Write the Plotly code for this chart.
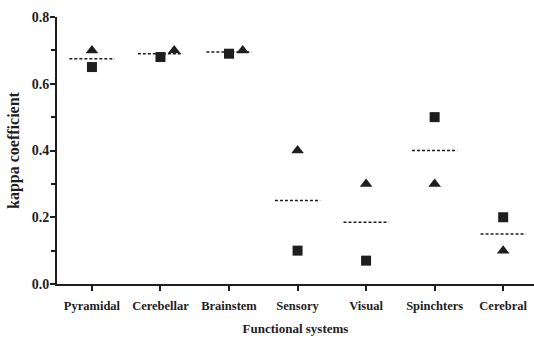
import plotly.graph_objects as go

# Functional systems and kappa coefficients from two rater comparisons
systems = ["Pyramidal", "Cerebellar", "Brainstem", "Sensory", "Visual", "Spinchters", "Cerebral"]
kappa_square = [0.65, 0.68, 0.69, 0.10, 0.07, 0.50, 0.20]
kappa_triangle = [0.70, 0.70, 0.70, 0.40, 0.30, 0.30, 0.10]
# horizontal nudge (in category units) so overlapping triangles stay visible
triangle_nudge = [0.0, 0.2, 0.2, 0.0, 0.0, 0.0, 0.0]
y_ticks = [0.0, 0.2, 0.4, 0.6, 0.8]

ink = "#1e1e1e"
font_family = "Liberation Serif, Times New Roman, serif"

idx = list(range(len(systems)))
means = [(a + b) / 2 for a, b in zip(kappa_square, kappa_triangle)]

fig = go.Figure()

# dashed mean line for each system
half = 0.33
for i, m in zip(idx, means):
    fig.add_trace(go.Scatter(
        x=[i - half, i + half], y=[m, m], mode="lines",
        line=dict(color=ink, width=1.5, dash="3px,2px"),
        showlegend=False, hoverinfo="skip"))

fig.add_trace(go.Scatter(
    x=idx, y=kappa_square, mode="markers",
    marker=dict(symbol="square", size=10, color=ink),
    showlegend=False))

fig.add_trace(go.Scatter(
    x=[i + d for i, d in zip(idx, triangle_nudge)], y=kappa_triangle, mode="markers",
    marker=dict(symbol="triangle-up", size=11, color=ink),
    showlegend=False))

fig.update_layout(
    width=534, height=342,
    margin=dict(l=57, r=0, t=17, b=58),
    plot_bgcolor="white", paper_bgcolor="white",
    font=dict(family=font_family, color=ink, size=12),
    xaxis=dict(
        range=[-0.51, 6.45], tickmode="array", tickvals=idx, ticktext=systems,
        showgrid=False, zeroline=False, showline=True, linecolor=ink, linewidth=1.8,
        ticks="outside", ticklen=5, tickwidth=1.5, tickcolor=ink,
        ticklabelstandoff=4,
        tickfont=dict(family=font_family, size=12.5, color=ink, weight="bold"),
        title=dict(text="<b>Functional systems</b>", standoff=12,
                   font=dict(family=font_family, size=13, color=ink)),
    ),
    yaxis=dict(
        range=[0, 0.8], tickmode="array", tickvals=y_ticks,
        ticktext=[f"{v:.1f}" for v in y_ticks],
        showgrid=False, zeroline=False, showline=True, linecolor=ink, linewidth=1.8,
        ticks="outside", ticklen=5, tickwidth=1.5, tickcolor=ink,
        ticklabelstandoff=-2,
        minor=dict(dtick=0.1, tick0=0.1, ticks="outside", ticklen=4, tickwidth=1.5,
                   tickcolor=ink, showgrid=False),
        tickfont=dict(family=font_family, size=14, color=ink, weight="bold"),
        title=dict(text="<b>kappa coefficient</b>", standoff=8,
                   font=dict(family=font_family, size=16, color=ink)),
    ),
)

fig.write_html("out.html")
